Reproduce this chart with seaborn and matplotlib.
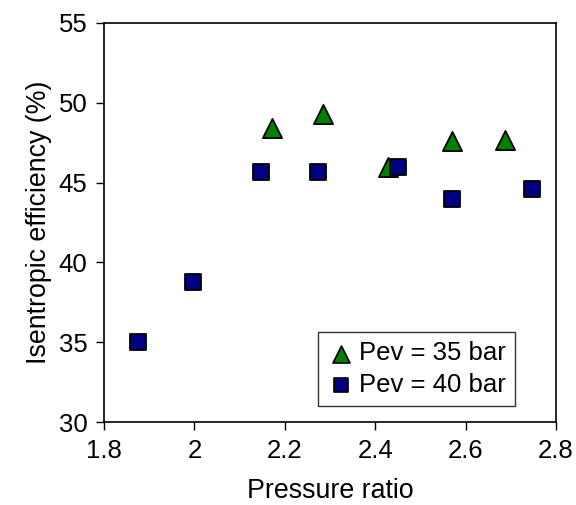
import matplotlib
matplotlib.use("Agg")
import matplotlib.pyplot as plt
import seaborn as sns
import pandas as pd

# Data
x35 = [2.171, 2.284, 2.429, 2.569, 2.687]
y35 = [48.4, 49.3, 45.95, 47.6, 47.7]
x40 = [1.875, 1.997, 2.147, 2.273, 2.450, 2.571, 2.748]
y40 = [35.0, 38.75, 45.65, 45.65, 46.0, 44.0, 44.6]
labels = ["Pev = 35 bar", "Pev = 40 bar"]
xticks = [1.8, 2.0, 2.2, 2.4, 2.6, 2.8]
xticklabels = ["1.8", "2", "2.2", "2.4", "2.6", "2.8"]
yticks = [30, 35, 40, 45, 50, 55]

df35 = pd.DataFrame({"x": x35, "y": y35})
df40 = pd.DataFrame({"x": x40, "y": y40})

sns.set_style("white")
plt.rcParams["font.family"] = ["Liberation Sans", "DejaVu Sans"]

FS = 18.5
LFS = 19.3
fig = plt.figure(figsize=(5.76, 5.05), dpi=100)
ax = fig.add_axes([104 / 576, 1 - 422 / 505, 452 / 576, 399 / 505])

sns.scatterplot(data=df35, x="x", y="y", marker="^", color="#008000", s=190,
                edgecolor="black", linewidth=1.3, ax=ax, zorder=3, label=labels[0])
sns.scatterplot(data=df40, x="x", y="y", marker="s", color="#000080", s=130,
                edgecolor="black", linewidth=1.3, ax=ax, zorder=4, label=labels[1])

ax.set_xlim(1.8, 2.8)
ax.set_ylim(30, 55)
ax.set_xticks(xticks)
ax.set_xticklabels(xticklabels)
ax.set_yticks(yticks)
ax.tick_params(axis="both", direction="out", length=6, width=1, color="black",
               labelsize=FS, labelcolor="black", pad=6)
ax.tick_params(bottom=True, left=True, top=False, right=False)
for sp in ax.spines.values():
    sp.set_visible(True)
    sp.set_color("black")
    sp.set_linewidth(1.2)
ax.set_xlabel("Pressure ratio", fontsize=LFS, labelpad=11, color="black")
ax.set_ylabel("Isentropic efficiency (%)", fontsize=LFS, labelpad=5, color="black")

leg = ax.legend(loc="lower right", bbox_to_anchor=(0.909, 0.04), fontsize=FS,
                frameon=True, fancybox=False, edgecolor="black",
                handletextpad=0.15, borderpad=0.35, labelspacing=0.3,
                handlelength=1.1, borderaxespad=0)
leg.get_frame().set_linewidth(1.0)
for t in leg.get_texts():
    t.set_color("black")
hs = leg.legend_handles
hs[0].set_sizes([150])
hs[1].set_sizes([110])
for h in hs:
    h.set_edgecolor("black")
    h.set_linewidth(1.2)

fig.savefig("out.png", dpi=100)
